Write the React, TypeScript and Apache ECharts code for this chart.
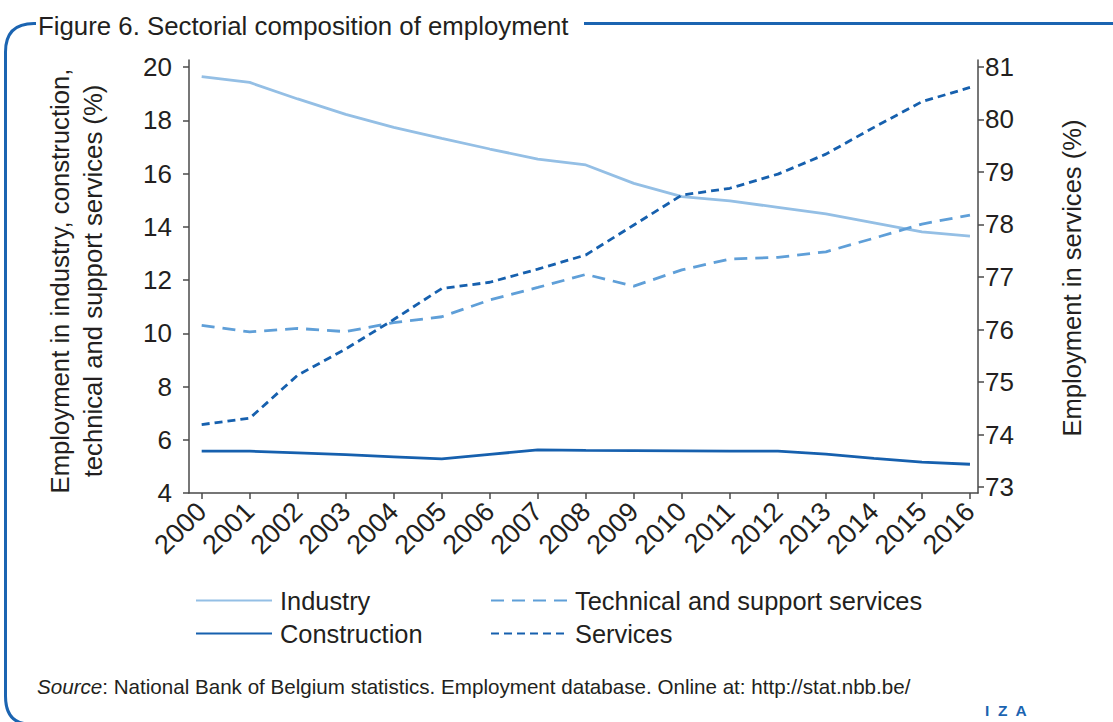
import React, { useEffect, useRef } from "react";
import * as echarts from "echarts";

const years = [2000, 2001, 2002, 2003, 2004, 2005, 2006, 2007, 2008, 2009, 2010, 2011, 2012, 2013, 2014, 2015, 2016];
const industry = [19.64, 19.42, 18.8, 18.22, 17.73, 17.32, 16.92, 16.54, 16.32, 15.63, 15.13, 14.97, 14.73, 14.48, 14.15, 13.81, 13.65];
const construction = [5.57, 5.57, 5.51, 5.44, 5.36, 5.28, 5.45, 5.62, 5.6, 5.59, 5.58, 5.57, 5.57, 5.46, 5.3, 5.16, 5.08];
const technical = [10.3, 10.05, 10.18, 10.06, 10.4, 10.62, 11.25, 11.72, 12.21, 11.77, 12.38, 12.79, 12.85, 13.06, 13.57, 14.1, 14.44];
const services = [74.19, 74.31, 75.13, 75.63, 76.19, 76.78, 76.9, 77.15, 77.42, 77.99, 78.56, 78.69, 78.96, 79.34, 79.85, 80.34, 80.61];
const leftTicks = [4, 6, 8, 10, 12, 14, 16, 18, 20];
const rightTicks = [73, 74, 75, 76, 77, 78, 79, 80, 81];

const TITLE = "Figure 6. Sectorial composition of employment";
const LEFT_NAME_1 = "Employment in industry, construction,";
const LEFT_NAME_2 = "technical and support services (%)";
const RIGHT_NAME = "Employment in services (%)";
const SOURCE_REST = ": National Bank of Belgium statistics. Employment database. Online at: http://stat.nbb.be/";

const FONT = "'Liberation Sans', Arial, sans-serif";
const TEXT = "#231f20";
const AXIS = "#4a4a4a";
const FRAME = "#1b64b1";
const C_IND = "#94bfe5";
const C_TECH = "#5f9fd8";
const C_DARK = "#1660ae";

echarts.graphic.registerShape(
  "izaFrame",
  echarts.graphic.extendPath("M 36 23.5 L 34 23.5 Q 5.5 23.5 5.5 52 L 5.5 696 Q 5.5 724 30 724", {}) as any
);

const pairs = (vals: number[]) => years.map((y, i) => [y, vals[i]]);

export default function App() {
  const ref = useRef<HTMLDivElement>(null);
  useEffect(() => {
    if (!ref.current) return;
    const chart = echarts.init(ref.current, undefined, { renderer: "svg" });
    const legendCommon = {
      orient: "vertical" as const,
      itemWidth: 76,
      itemHeight: 14,
      itemGap: 0,
      padding: 0,
      selectedMode: false,
      itemStyle: { color: "transparent", borderColor: "transparent", borderWidth: 0, opacity: 0 },
      textStyle: { fontSize: 25.4, color: TEXT, fontFamily: FONT, padding: [0, 0, 0, 3] },
    };
    chart.setOption({
      animation: false,
      grid: { left: 189, top: 60, width: 789, height: 433, containLabel: false },
      xAxis: {
        type: "value",
        min: 1999.736,
        max: 2016.167,
        splitLine: { show: false },
        axisLine: { lineStyle: { color: AXIS, width: 1.5 } },
        axisTick: { show: true, length: 6, customValues: years, lineStyle: { color: AXIS, width: 1.5 } },
        axisLabel: {
          customValues: years,
          rotate: 45,
          margin: 14,
          fontSize: 27,
          color: TEXT,
          fontFamily: FONT,
          formatter: (v: number) => String(v),
        },
      },
      yAxis: [
        {
          type: "value",
          position: "left",
          min: 4,
          max: 20.263,
          splitLine: { show: false },
          axisLine: { show: true, lineStyle: { color: AXIS, width: 1.5 } },
          axisTick: { show: true, length: 6, customValues: leftTicks, lineStyle: { color: AXIS, width: 1.5 } },
          axisLabel: { customValues: leftTicks, fontSize: 26, color: TEXT, fontFamily: FONT, margin: 17 },
        },
        {
          type: "value",
          position: "right",
          min: 72.886,
          max: 81.133,
          splitLine: { show: false },
          axisLine: { show: true, lineStyle: { color: AXIS, width: 1.5 } },
          axisTick: { show: true, length: 6, customValues: rightTicks, lineStyle: { color: AXIS, width: 1.5 } },
          axisLabel: { customValues: rightTicks, fontSize: 26, color: TEXT, fontFamily: FONT, margin: 7 },
        },
      ],
      legend: [
        { ...legendCommon, data: ["Industry"], left: 195, top: 588 },
        { ...legendCommon, data: ["Construction"], left: 195, top: 621 },
        { ...legendCommon, data: ["Technical and support services"], left: 490, top: 588 },
        { ...legendCommon, data: ["Services"], left: 490, top: 621 },
      ],
      series: [
        {
          name: "Industry",
          type: "line",
          yAxisIndex: 0,
          data: pairs(industry),
          symbol: "none",
          lineStyle: { color: C_IND, width: 2.8 },
          itemStyle: { color: C_IND },
        },
        {
          name: "Construction",
          type: "line",
          yAxisIndex: 0,
          data: pairs(construction),
          symbol: "none",
          lineStyle: { color: C_DARK, width: 2.8 },
          itemStyle: { color: C_DARK },
        },
        {
          name: "Technical and support services",
          type: "line",
          yAxisIndex: 0,
          data: pairs(technical),
          symbol: "none",
          lineStyle: { color: C_TECH, width: 2.8, type: [13, 8] },
          itemStyle: { color: C_TECH },
        },
        {
          name: "Services",
          type: "line",
          yAxisIndex: 1,
          data: pairs(services),
          symbol: "none",
          lineStyle: { color: C_DARK, width: 2.8, type: [8, 5] },
          itemStyle: { color: C_DARK },
        },
      ],
      graphic: [
        { type: "izaFrame", x: 0, y: 0, silent: true, style: { fill: "none", stroke: FRAME, lineWidth: 3 } },
        { type: "line", silent: true, shape: { x1: 584, y1: 23.5, x2: 1113, y2: 23.5 }, style: { stroke: FRAME, lineWidth: 3 } },
        {
          type: "text",
          x: 38,
          y: 26,
          style: { text: TITLE, fontSize: 25.8, fill: TEXT, fontFamily: FONT, verticalAlign: "middle", align: "left" },
        },
        {
          type: "text",
          x: 60,
          y: 281,
          rotation: Math.PI / 2,
          style: { text: LEFT_NAME_1, fontSize: 25.7, fill: TEXT, fontFamily: FONT, align: "center", verticalAlign: "middle" },
        },
        {
          type: "text",
          x: 93,
          y: 281,
          rotation: Math.PI / 2,
          style: { text: LEFT_NAME_2, fontSize: 25.7, fill: TEXT, fontFamily: FONT, align: "center", verticalAlign: "middle" },
        },
        {
          type: "text",
          x: 1072,
          y: 278,
          rotation: Math.PI / 2,
          style: { text: RIGHT_NAME, fontSize: 25.6, fill: TEXT, fontFamily: FONT, align: "center", verticalAlign: "middle" },
        },
        {
          type: "text",
          x: 37,
          y: 686,
          style: {
            text: "{i|Source}" + SOURCE_REST,
            fontSize: 20.6,
            fill: TEXT,
            fontFamily: FONT,
            verticalAlign: "middle",
            rich: { i: { fontStyle: "italic", fontSize: 20.6, fill: TEXT, fontFamily: FONT } },
          },
        },
        {
          type: "text",
          x: 985,
          y: 710,
          style: { text: "I  Z  A", fontSize: 15.5, fontWeight: "bold", fill: FRAME, fontFamily: FONT, verticalAlign: "middle" },
        },
      ],
    });
    return () => chart.dispose();
  }, []);
  return <div ref={ref} style={{ position: "absolute", left: 0, top: 0, width: 1113, height: 722 }} />;
}
